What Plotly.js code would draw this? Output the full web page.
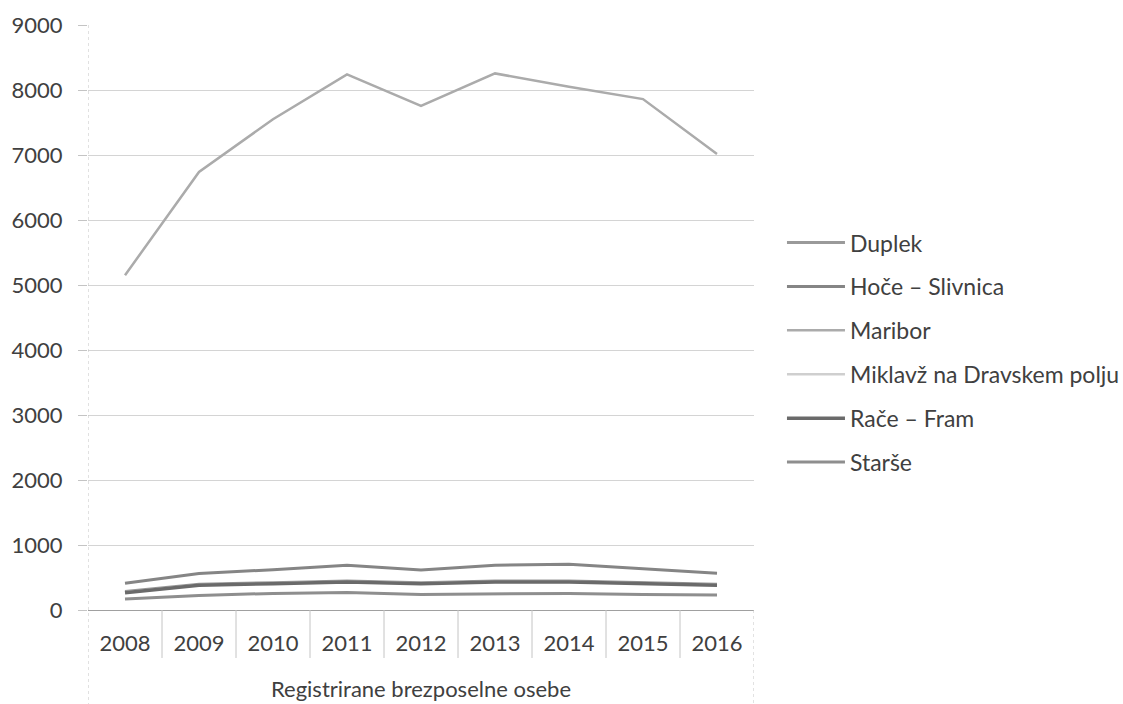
<!DOCTYPE html>
<html>
<head>
<meta charset="utf-8">
<script src="https://cdn.plot.ly/plotly-3.0.1.min.js"></script>
<style>html,body{margin:0;padding:0;background:#fff;}#chart{width:1123px;height:704px;}</style>
</head>
<body>
<div id="chart"></div>
<script>
const years = ['2008','2009','2010','2011','2012','2013','2014','2015','2016'];
const groupLabel = 'Registrirane brezposelne osebe';
const duplek = [285, 395, 420, 445, 420, 445, 445, 420, 395];
const hoceSlivnica = [410, 560, 620, 690, 615, 690, 705, 630, 565];
const maribor = [5150, 6740, 7550, 8240, 7755, 8255, 8050, 7860, 7015];
const miklavz = [275, 385, 410, 435, 410, 435, 435, 410, 385];
const raceFram = [265, 380, 405, 430, 405, 430, 430, 405, 380];
const starse = [170, 225, 255, 270, 240, 250, 255, 240, 230];
const yTicks = [0,1000,2000,3000,4000,5000,6000,7000,8000,9000];

const seriesNames = ['Duplek','Hoče – Slivnica','Maribor','Miklavž na Dravskem polju','Rače – Fram','Starše'];
const seriesValues = [duplek, hoceSlivnica, maribor, miklavz, raceFram, starse];
const seriesColors = ['#9a9a9a','#858585','#ababab','#cfcfcf','#6a6a6a','#8e8e8e'];
const seriesWidths = [3, 3, 2.5, 2.5, 3.5, 3];

const traces = seriesNames.map((n, i) => ({
  type: 'scatter', mode: 'lines', name: n, x: years, y: seriesValues[i],
  legendgroup: 'g' + i,
  line: {color: seriesColors[i], width: seriesWidths[i]}
}));

const fam = 'Lato, "Open Sans", sans-serif';
const txt = '#404040';
const shapes = [];
for (let i = 0; i <= years.length; i++) {
  const outer = (i === 0 || i === years.length);
  shapes.push({type: 'line', xref: 'x', yref: 'paper', x0: i - 0.5, x1: i - 0.5,
    y0: i === 0 ? 1 : 0, y1: outer ? -0.165 : -0.082,
    line: {color: '#c4c4c4', width: 1, dash: outer ? 'dot' : 'solid'}});
}

const layout = {
  width: 1123, height: 704,
  margin: {l: 88, r: 369, t: 25, b: 94, autoexpand: false},
  paper_bgcolor: '#fff', plot_bgcolor: '#fff',
  font: {family: fam, color: txt, size: 22},
  showlegend: true,
  legend: {x: 1.042, y: 0.44, yanchor: 'middle', xanchor: 'left',
    font: {size: 23, color: txt, family: fam},
    tracegroupgap: 11, itemwidth: 58, bgcolor: 'rgba(0,0,0,0)'},
  xaxis: {type: 'category', range: [-0.5, 8.5], showgrid: false, zeroline: false,
    showline: true, linecolor: '#a0a0a0', linewidth: 1, ticks: '', ticklabelstandoff: 14,
    tickfont: {size: 22, color: txt, family: fam},
    title: {text: groupLabel, font: {size: 22, color: txt, family: fam}, standoff: 26}, automargin: false},
  yaxis: {range: [0, 9000], tickvals: yTicks, showgrid: true, gridcolor: '#d4d4d4', gridwidth: 1,
    zeroline: false, showline: false, ticks: 'outside', ticklen: 9, tickcolor: '#c4c4c4',
    ticklabelstandoff: 11, tickfont: {size: 22, color: txt, family: fam}, automargin: false},
  shapes: shapes
};

Plotly.newPlot('chart', traces, layout, {displayModeBar: false, staticPlot: true});
</script>
</body>
</html>
